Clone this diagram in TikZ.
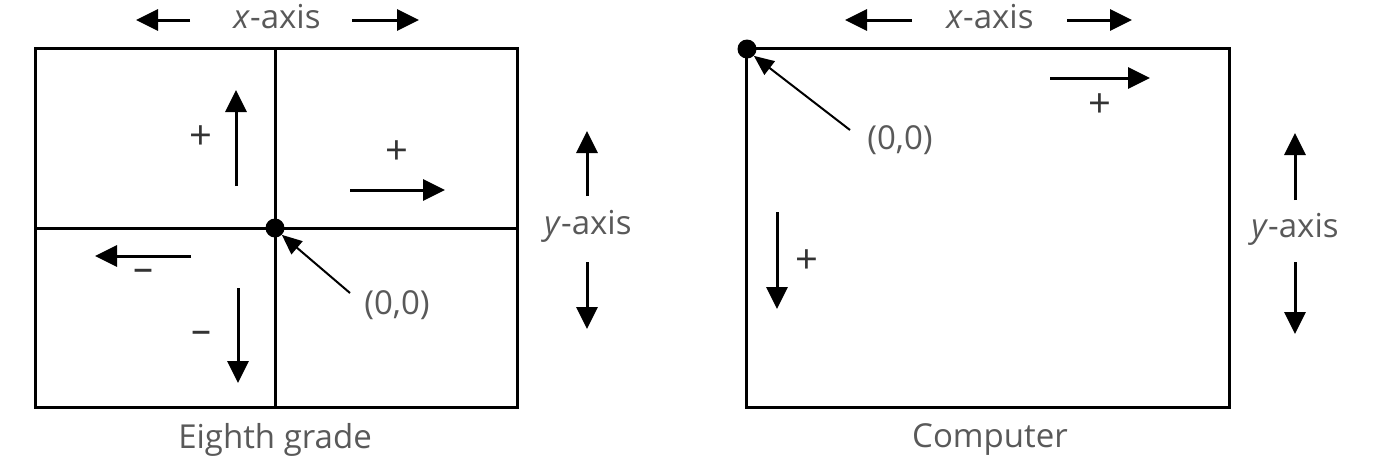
\documentclass[tikz,border=0pt]{standalone}
\usepackage{fontspec}
\setmainfont{Open Sans}
\usetikzlibrary{arrows.meta}
\usetikzlibrary{positioning}

\begin{document}
\begin{tikzpicture}[x=1pt,y=-1pt,
    box/.style={line width=3pt},
    arr/.style={line width=3pt,-{Triangle[length=22pt,width=21pt]}},
    ptr/.style={line width=2pt,-{Triangle[length=20pt,width=17pt]}},
    dot/.style={circle,fill,inner sep=0pt,minimum size=19pt},
    lbl/.style={text=black!65,font=\fontsize{33}{36}\selectfont},
    sgn/.style={text=black!80,font=\fontsize{40}{40}\selectfont}]
    \useasboundingbox (0,0) rectangle (1373,467);
    % Eighth grade
    \draw [box] (35,48) rectangle (517,407);
    \draw [box] (275,48) -- (275,407);
    \draw [box] (35,228) -- (517,228);
    \node [dot] (o1) at (275,228) {};
    \node [lbl] (xax1) at (277,17) {\textit{x}-axis};
    \coordinate (xl1) at (190,20);
    \coordinate (xl1t) at (136,20);
    \coordinate (xr1) at (352,20);
    \coordinate (xr1t) at (419,20);
    \draw [arr] (xl1) -- (xl1t);
    \draw [arr] (xr1) -- (xr1t);
    \coordinate (up1) at (236,186);
    \coordinate (up1t) at (236,90);
    \draw [arr] (up1) -- (up1t);
    \node [sgn] (pu1) at (201,138) {+};
    \coordinate (rt1) at (350,190);
    \coordinate (rt1t) at (445,190);
    \draw [arr] (rt1) -- (rt1t);
    \node [sgn] (pr1) at (397,153) {+};
    \coordinate (lt1) at (191,256);
    \coordinate (lt1t) at (95,256);
    \draw [arr] (lt1) -- (lt1t);
    \node [sgn] (ml1) at (143,275) {--};
    \coordinate (dn1) at (238,288);
    \coordinate (dn1t) at (238,383);
    \draw [arr] (dn1) -- (dn1t);
    \node [sgn] (md1) at (201,337) {--};
    \node [lbl] (org1) at (397,305) {(0,0)};
    \coordinate (pt1) at (350,293);
    \draw [ptr] (pt1) -- (o1.south east);
    \node [lbl] (yax1) at (588,226) {\textit{y}-axis};
    \coordinate (yu1) at (587,196);
    \coordinate (yu1t) at (587,131);
    \coordinate (yd1) at (587,262);
    \coordinate (yd1t) at (587,329);
    \draw [arr] (yu1) -- (yu1t);
    \draw [arr] (yd1) -- (yd1t);
    \node [lbl] (cap1) at (275,440) {Eighth grade};
    % Computer
    \draw [box] (746,48) rectangle (1229,407);
    \node [dot] (o2) at (747,49) {};
    \node [lbl] (xax2) at (990,17) {\textit{x}-axis};
    \coordinate (xl2) at (912,20);
    \coordinate (xl2t) at (845,20);
    \coordinate (xr2) at (1067,20);
    \coordinate (xr2t) at (1132,20);
    \draw [arr] (xl2) -- (xl2t);
    \draw [arr] (xr2) -- (xr2t);
    \coordinate (rt2) at (1050,78);
    \coordinate (rt2t) at (1150,78);
    \draw [arr] (rt2) -- (rt2t);
    \node [sgn] (pr2) at (1100,106) {+};
    \node [lbl] (org2) at (900,140) {(0,0)};
    \coordinate (pt2) at (850,130);
    \draw [ptr] (pt2) -- (o2.south east);
    \coordinate (dn2) at (777,212);
    \coordinate (dn2t) at (777,309);
    \draw [arr] (dn2) -- (dn2t);
    \node [sgn] (pd2) at (807,262) {+};
    \node [lbl] (yax2) at (1295,229) {\textit{y}-axis};
    \coordinate (yu2) at (1295,200);
    \coordinate (yu2t) at (1295,133);
    \coordinate (yd2) at (1295,262);
    \coordinate (yd2t) at (1295,334);
    \draw [arr] (yu2) -- (yu2t);
    \draw [arr] (yd2) -- (yd2t);
    \node [lbl] (cap2) at (990,440) {Computer};
\end{tikzpicture}
\end{document}
